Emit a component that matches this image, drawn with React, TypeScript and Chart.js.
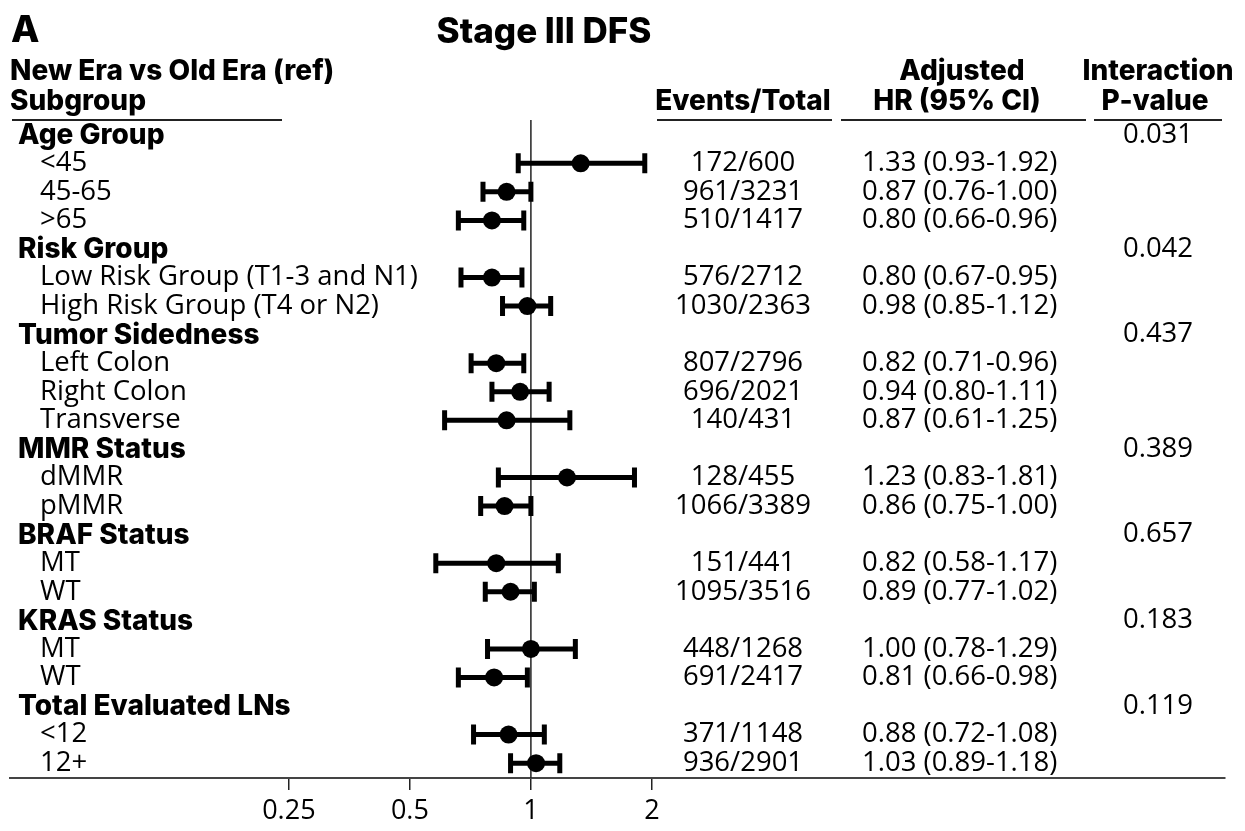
import React, { useEffect, useRef } from "react";
import { Chart, registerables } from "chart.js";

Chart.register(...registerables);

const subgroupLabels = [
  "Age Group", "<45", "45-65", ">65",
  "Risk Group", "Low Risk Group (T1-3 and N1)", "High Risk Group (T4 or N2)",
  "Tumor Sidedness", "Left Colon", "Right Colon", "Transverse",
  "MMR Status", "dMMR", "pMMR",
  "BRAF Status", "MT", "WT",
  "KRAS Status", "MT", "WT",
  "Total Evaluated LNs", "<12", "12+",
];
const isGroupHeader = [
  true, false, false, false,
  true, false, false,
  true, false, false, false,
  true, false, false,
  true, false, false,
  true, false, false,
  true, false, false,
];
const eventsTotal = [
  "", "172/600", "961/3231", "510/1417",
  "", "576/2712", "1030/2363",
  "", "807/2796", "696/2021", "140/431",
  "", "128/455", "1066/3389",
  "", "151/441", "1095/3516",
  "", "448/1268", "691/2417",
  "", "371/1148", "936/2901",
];
const hrValues: (number | null)[] = [
  null, 1.33, 0.87, 0.80,
  null, 0.80, 0.98,
  null, 0.82, 0.94, 0.87,
  null, 1.23, 0.86,
  null, 0.82, 0.89,
  null, 1.00, 0.81,
  null, 0.88, 1.03,
];
const ciLower: (number | null)[] = [
  null, 0.93, 0.76, 0.66,
  null, 0.67, 0.85,
  null, 0.71, 0.80, 0.61,
  null, 0.83, 0.75,
  null, 0.58, 0.77,
  null, 0.78, 0.66,
  null, 0.72, 0.89,
];
const ciUpper: (number | null)[] = [
  null, 1.92, 1.00, 0.96,
  null, 0.95, 1.12,
  null, 0.96, 1.11, 1.25,
  null, 1.81, 1.00,
  null, 1.17, 1.02,
  null, 1.29, 0.98,
  null, 1.08, 1.18,
];
const interactionP = [
  "0.031", "", "", "",
  "0.042", "", "",
  "0.437", "", "", "",
  "0.389", "", "",
  "0.657", "", "",
  "0.183", "", "",
  "0.119", "", "",
];
const xTicks = [0.25, 0.5, 1, 2];

const BOLD = "Inter, Lato, sans-serif";
const REG = "'Open Sans', 'Noto Sans', sans-serif";
const REG_SIZE = 27.5;
const BOLD_SIZE = 28;
const BOLD_WEIGHT = 800;

export default function App() {
  const ref = useRef<HTMLCanvasElement | null>(null);

  useEffect(() => {
    let chart: any = null;
    let cancelled = false;

    const points = hrValues
      .map((v, i) => (v == null ? null : { x: v, y: i }))
      .filter((p) => p !== null) as { x: number; y: number }[];

    const forestPlugin = {
      id: "forest",
      beforeDatasetsDraw(c: any) {
        const { ctx, scales, chartArea } = c;
        const xs = scales.x;
        const ys = scales.y;
        ctx.save();
        const x1 = xs.getPixelForValue(1);
        ctx.strokeStyle = "#222";
        ctx.lineWidth = 1.5;
        ctx.beginPath();
        ctx.moveTo(x1, chartArea.top);
        ctx.lineTo(x1, chartArea.bottom);
        ctx.stroke();
        ctx.strokeStyle = "#000";
        for (let i = 0; i < hrValues.length; i++) {
          const lo = ciLower[i];
          const hi = ciUpper[i];
          if (lo == null || hi == null) continue;
          const y = ys.getPixelForValue(i);
          const xl = xs.getPixelForValue(lo);
          const xh = xs.getPixelForValue(hi);
          ctx.lineWidth = 5;
          ctx.lineCap = "butt";
          ctx.beginPath();
          ctx.moveTo(xl, y);
          ctx.lineTo(xh, y);
          ctx.stroke();
          ctx.beginPath();
          ctx.moveTo(xl, y - 10);
          ctx.lineTo(xl, y + 10);
          ctx.moveTo(xh, y - 10);
          ctx.lineTo(xh, y + 10);
          ctx.stroke();
        }
        ctx.restore();
      },
      afterDraw(c: any) {
        const { ctx, scales } = c;
        const ys = scales.y;
        ctx.save();
        ctx.fillStyle = "#000";
        ctx.textBaseline = "middle";
        ctx.font = `${BOLD_WEIGHT} 37px ${BOLD}`;
        ctx.textAlign = "left";
        ctx.fillText("A", 11, 31);
        ctx.font = `${BOLD_WEIGHT} 35px ${BOLD}`;
        ctx.textAlign = "center";
        ctx.fillText("Stage III DFS", 544, 32);
        ctx.font = `${BOLD_WEIGHT} ${BOLD_SIZE}px ${BOLD}`;
        ctx.textAlign = "left";
        ctx.fillText("New Era vs Old Era (ref)", 10, 72);
        ctx.fillText("Subgroup", 10, 102);
        ctx.textAlign = "center";
        ctx.fillText("Events/Total", 743, 102);
        ctx.fillText("Adjusted", 962, 72);
        ctx.fillText("HR (95% CI)", 957, 102);
        ctx.fillText("Interaction", 1158, 72);
        ctx.fillText("P-value", 1155, 102);
        ctx.strokeStyle = "#222";
        ctx.lineWidth = 2;
        ctx.beginPath();
        ctx.moveTo(12, 120); ctx.lineTo(282, 120);
        ctx.moveTo(657, 120); ctx.lineTo(832, 120);
        ctx.moveTo(841, 120); ctx.lineTo(1086, 120);
        ctx.moveTo(1094, 120); ctx.lineTo(1222, 120);
        ctx.stroke();
        for (let i = 0; i < subgroupLabels.length; i++) {
          const y = ys.getPixelForValue(i);
          if (isGroupHeader[i]) {
            ctx.font = `${BOLD_WEIGHT} ${BOLD_SIZE}px ${BOLD}`;
            ctx.textAlign = "left";
            ctx.fillText(subgroupLabels[i], 18, y + 1);
          } else {
            ctx.font = `${REG_SIZE}px ${REG}`;
            ctx.textAlign = "left";
            ctx.fillText(subgroupLabels[i], 40, y);
          }
          ctx.font = `${REG_SIZE}px ${REG}`;
          if (eventsTotal[i]) {
            ctx.textAlign = "center";
            ctx.fillText(eventsTotal[i], 743, y);
          }
          const hr = hrValues[i];
          const lo = ciLower[i];
          const hi = ciUpper[i];
          if (hr != null && lo != null && hi != null) {
            ctx.textAlign = "left";
            ctx.fillText(`${hr.toFixed(2)} (${lo.toFixed(2)}-${hi.toFixed(2)})`, 862, y);
          }
          if (interactionP[i]) {
            ctx.textAlign = "center";
            ctx.fillText(interactionP[i], 1158, y);
          }
        }
        ctx.restore();
      },
    };

    const build = () => {
      if (cancelled || !ref.current) return;
      chart = new Chart(ref.current, {
        type: "scatter",
        data: {
          datasets: [
            {
              data: points,
              pointRadius: 9,
              pointHoverRadius: 9,
              backgroundColor: "#000",
              borderColor: "#000",
              borderWidth: 0,
            },
          ],
        },
        options: {
          animation: false,
          responsive: false,
          events: [],
          layout: { padding: { left: 10, right: 20, top: 120, bottom: 0 } },
          plugins: { legend: { display: false }, tooltip: { enabled: false } },
          scales: {
            x: {
              type: "logarithmic",
              min: 0.0506,
              max: 53.3,
              afterBuildTicks: (scale: any) => {
                scale.ticks = xTicks.map((v) => ({ value: v }));
              },
              afterFit: (scale: any) => {
                scale.height = 53;
              },
              ticks: {
                autoSkip: false,
                maxRotation: 0,
                color: "#000",
                padding: 5,
                font: { family: REG, size: 27 },
                callback: (v: any) => String(v),
              },
              grid: {
                display: true,
                drawOnChartArea: false,
                drawTicks: true,
                tickLength: 12,
                color: "#222",
                lineWidth: 1.5,
              },
              border: { display: true, color: "#444", width: 2 },
            },
            y: {
              type: "linear",
              display: false,
              reverse: true,
              min: -0.515,
              max: 22.52,
            },
          },
        },
        plugins: [forestPlugin],
      });
    };

    const loads = [
      "800 28px Inter",
      "bold 28px Inter",
      "27px 'Open Sans'",
      "27px 'Noto Sans'",
    ].map((f) => (document as any).fonts?.load ? (document as any).fonts.load(f).catch(() => null) : Promise.resolve());
    Promise.all(loads).then(build, build);

    return () => {
      cancelled = true;
      if (chart) chart.destroy();
    };
  }, []);

  return (
    <div style={{ position: "fixed", left: 0, top: 0, width: 1245, height: 831, background: "#fff" }}>
      <canvas ref={ref} width={1245} height={831} style={{ width: 1245, height: 831 }} />
    </div>
  );
}
